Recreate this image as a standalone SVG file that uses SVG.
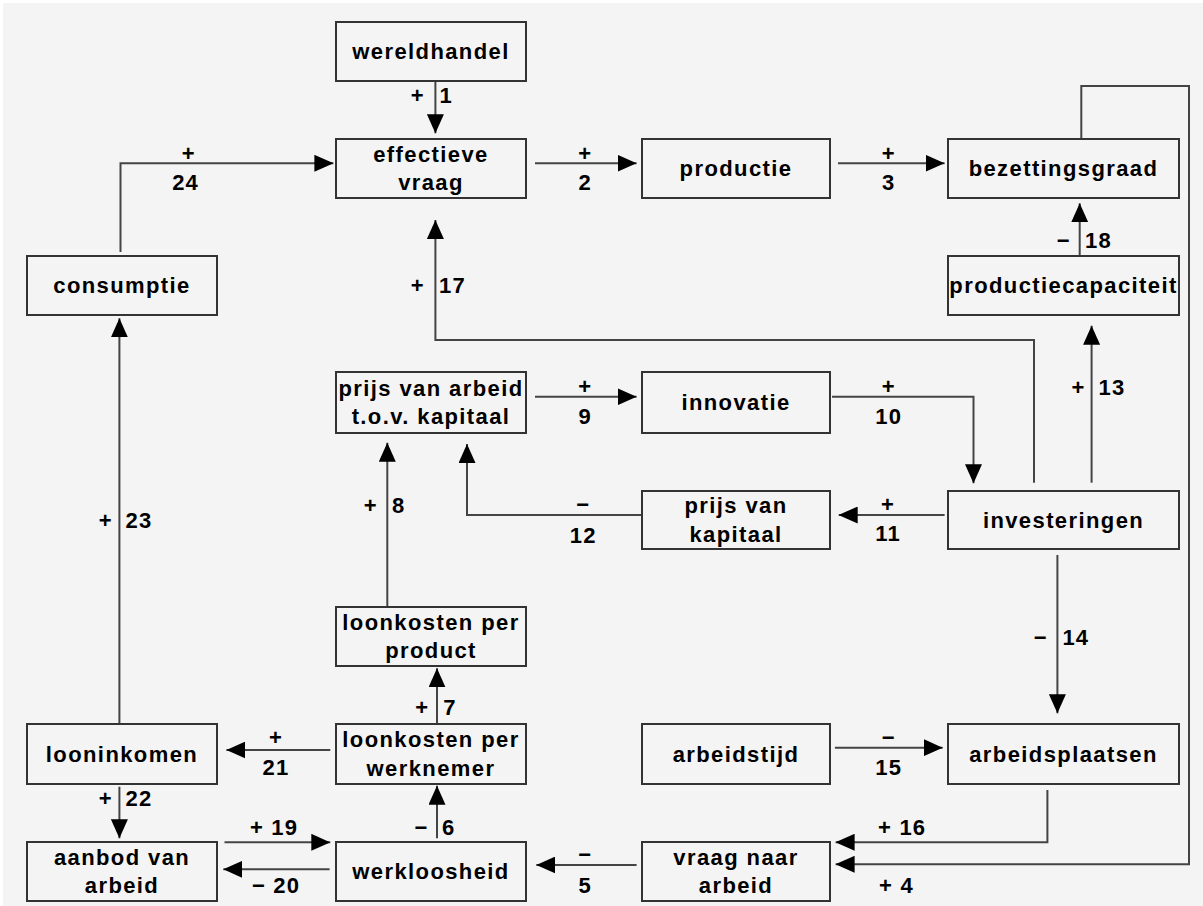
<svg xmlns="http://www.w3.org/2000/svg" width="1203" height="906" viewBox="0 0 1203 906">
<style>
.bx{fill:#f4f4f4;stroke:#333;stroke-width:2}
.t{font-family:"Liberation Sans",Arial,sans-serif;font-weight:bold;font-size:22px;letter-spacing:1.4px;fill:#000;text-anchor:middle}
.l{font-family:"Liberation Sans",Arial,sans-serif;font-weight:bold;font-size:22px;letter-spacing:1.2px;fill:#000;text-anchor:middle}
.s{text-anchor:start}
.c{fill:none;stroke:#444;stroke-width:2;marker-end:url(#ah)}
.p{fill:none;stroke:#444;stroke-width:2}
</style>
<defs>
<marker id="ah" viewBox="0 0 19 17" refX="19" refY="8.5" markerWidth="19" markerHeight="17" markerUnits="userSpaceOnUse" orient="auto">
<path d="M0,0 L19,8.5 L0,17 Z" fill="#000"/>
</marker>
</defs>
<rect x="0" y="0" width="1203" height="906" fill="#fff"/>
<rect x="3" y="3" width="1200" height="903" fill="#f4f4f4"/>

<g id="connectors">
<path class="c" d="M435.4,81 V133.3"/>
<path class="c" d="M535,163.3 H636.6"/>
<path class="c" d="M838,163.3 H944.6"/>
<path class="c" d="M120.5,252 V163.3 H333.4"/>
<path class="c" d="M1034,482.7 V340 H435.4 V220"/>
<path class="c" d="M1079.7,256 V203.3"/>
<path class="c" d="M1081.3,139 V86 H1189 V864.3 H835.6"/>
<path class="c" d="M1091.6,482.7 V325.7"/>
<path class="c" d="M832,396.7 H973.5 V483.3"/>
<path class="c" d="M535,396.7 H636.6"/>
<path class="c" d="M944.6,515 H838.7"/>
<path class="c" d="M642.4,515 H467 V444"/>
<path class="c" d="M387.3,607 V442.7"/>
<path class="c" d="M119.4,724 V318.3"/>
<path class="c" d="M437,724 V668.3"/>
<path class="c" d="M330.3,750 H226.4"/>
<path class="c" d="M119.4,786.7 V838.3"/>
<path class="c" d="M224.5,842.3 H330.3"/>
<path class="c" d="M329.6,869.3 H223.3"/>
<path class="c" d="M437,838.3 V785.7"/>
<path class="c" d="M636.6,865 H536.3"/>
<path class="c" d="M1057.4,555 V713.3"/>
<path class="c" d="M834.9,747.7 H942.7"/>
<path class="c" d="M1047.4,790 V842.3 H835.6"/>

<text class="l" x="417.7" y="103">+</text><text class="l s" x="439.5" y="103">1</text>
<text class="l" x="585.2" y="160.5">+</text><text class="l" x="585.2" y="190">2</text>
<text class="l" x="888.8" y="160.5">+</text><text class="l" x="888.8" y="190">3</text>
<text class="l" x="188.7" y="160.5">+</text><text class="l" x="185.6" y="190">24</text>
<text class="l" x="417.7" y="293">+</text><text class="l s" x="439" y="293">17</text>
<text class="l" x="1063.9" y="248">−</text><text class="l s" x="1085" y="248">18</text>
<text class="l" x="1078.6" y="395">+</text><text class="l s" x="1098.5" y="395">13</text>
<text class="l" x="888.8" y="394">+</text><text class="l" x="888.8" y="423.5">10</text>
<text class="l" x="585.2" y="394">+</text><text class="l" x="585.2" y="423.5">9</text>
<text class="l" x="888" y="512">+</text><text class="l" x="888" y="540.7">11</text>
<text class="l" x="583.3" y="512">−</text><text class="l" x="583.3" y="543">12</text>
<text class="l" x="370.8" y="512.5">+</text><text class="l s" x="392" y="512.5">8</text>
<text class="l" x="105.9" y="528">+</text><text class="l s" x="125.5" y="528">23</text>
<text class="l" x="422.3" y="715">+</text><text class="l s" x="443.2" y="715">7</text>
<text class="l" x="276" y="745">+</text><text class="l" x="276" y="775">21</text>
<text class="l" x="105.9" y="806">+</text><text class="l s" x="125.5" y="806">22</text>
<text class="l" x="274.1" y="835">+ 19</text>
<text class="l" x="276" y="892.7">− 20</text>
<text class="l" x="421.6" y="835">−</text><text class="l s" x="442" y="835">6</text>
<text class="l" x="585.2" y="862">−</text><text class="l" x="585.2" y="892.7">5</text>
<text class="l" x="1040.8" y="645">−</text><text class="l s" x="1062.4" y="645">14</text>
<text class="l" x="888.8" y="744.7">−</text><text class="l" x="888.8" y="775">15</text>
<text class="l" x="902.2" y="835">+ 16</text>
<text class="l" x="896.5" y="892.7">+ 4</text>
</g>

<g id="n-wereldhandel"><rect class="bx" x="336" y="22" width="190" height="59"/><text class="t" x="431" y="59">wereldhandel</text></g>
<g id="n-effectieve-vraag"><rect class="bx" x="336" y="139" width="190" height="59"/><text class="t" x="431" y="161.5">effectieve</text><text class="t" x="431" y="190">vraag</text></g>
<g id="n-productie"><rect class="bx" x="642" y="139" width="188" height="59"/><text class="t" x="736" y="176">productie</text></g>
<g id="n-bezettingsgraad"><rect class="bx" x="948" y="139" width="231" height="59"/><text class="t" x="1063.5" y="176">bezettingsgraad</text></g>
<g id="n-consumptie"><rect class="bx" x="27" y="256" width="190" height="59"/><text class="t" x="122" y="293">consumptie</text></g>
<g id="n-productiecapaciteit"><rect class="bx" x="948" y="256" width="231" height="59"/><text class="t" x="1063.5" y="293">productiecapaciteit</text></g>
<g id="n-prijs-arbeid"><rect class="bx" x="336" y="372" width="190" height="61"/><text class="t" x="431" y="395.5">prijs van arbeid</text><text class="t" x="431" y="424">t.o.v. kapitaal</text></g>
<g id="n-innovatie"><rect class="bx" x="642" y="372" width="188" height="61"/><text class="t" x="736" y="410">innovatie</text></g>
<g id="n-prijs-kapitaal"><rect class="bx" x="642" y="491" width="188" height="58"/><text class="t" x="736" y="513">prijs van</text><text class="t" x="736" y="541.5">kapitaal</text></g>
<g id="n-investeringen"><rect class="bx" x="948" y="491" width="231" height="58"/><text class="t" x="1063.5" y="527.5">investeringen</text></g>
<g id="n-loonkosten-product"><rect class="bx" x="336" y="607" width="190" height="59"/><text class="t" x="431" y="629.5">loonkosten per</text><text class="t" x="431" y="658">product</text></g>
<g id="n-looninkomen"><rect class="bx" x="27" y="724" width="190" height="60"/><text class="t" x="122" y="761.5">looninkomen</text></g>
<g id="n-loonkosten-werknemer"><rect class="bx" x="336" y="724" width="190" height="60"/><text class="t" x="431" y="747">loonkosten per</text><text class="t" x="431" y="775.5">werknemer</text></g>
<g id="n-arbeidstijd"><rect class="bx" x="642" y="724" width="188" height="60"/><text class="t" x="736" y="761.5">arbeidstijd</text></g>
<g id="n-arbeidsplaatsen"><rect class="bx" x="948" y="724" width="231" height="60"/><text class="t" x="1063.5" y="761.5">arbeidsplaatsen</text></g>
<g id="n-aanbod"><rect class="bx" x="27" y="842" width="190" height="59"/><text class="t" x="122" y="864.5">aanbod van</text><text class="t" x="122" y="893">arbeid</text></g>
<g id="n-werkloosheid"><rect class="bx" x="336" y="842" width="190" height="59"/><text class="t" x="431" y="879">werkloosheid</text></g>
<g id="n-vraag-arbeid"><rect class="bx" x="642" y="842" width="188" height="59"/><text class="t" x="736" y="864.5">vraag naar</text><text class="t" x="736" y="893">arbeid</text></g>
</svg>
